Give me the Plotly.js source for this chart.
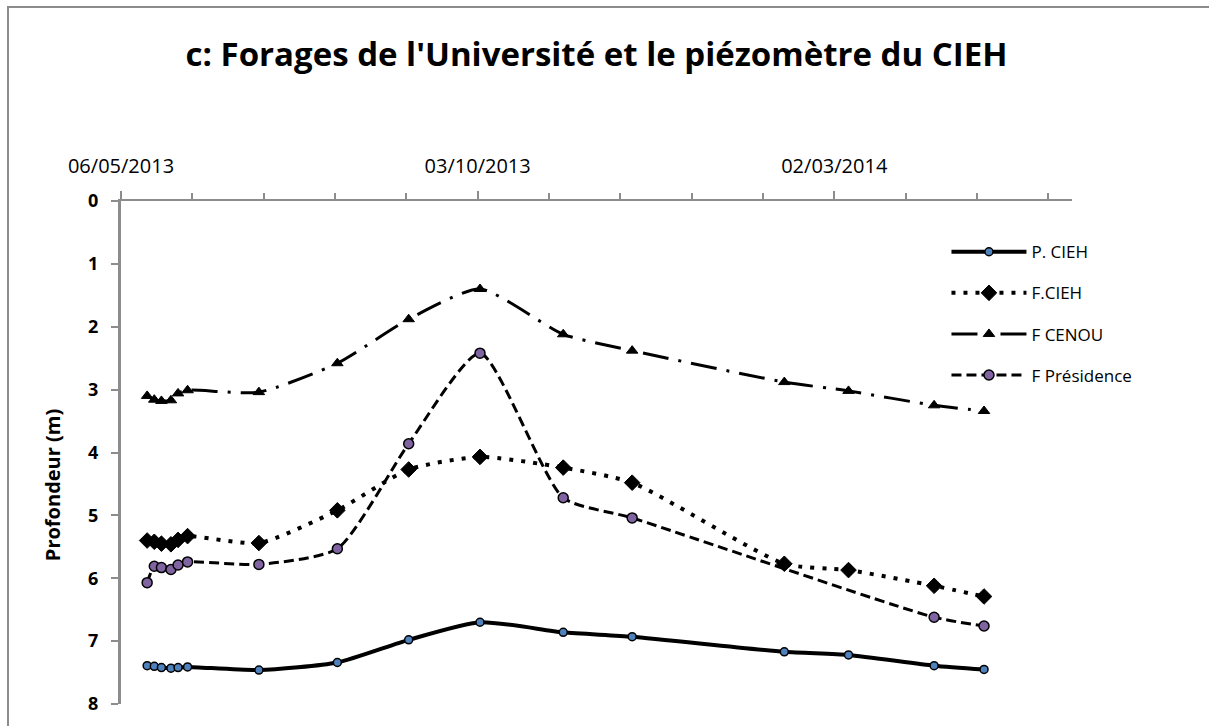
<!DOCTYPE html>
<html>
<head>
<meta charset="utf-8">
<script src="https://cdn.plot.ly/plotly-3.0.1.min.js"></script>
<style>
  html, body { margin:0; padding:0; background:#fff; overflow:hidden; }
  #chart { position:absolute; left:0; top:0; width:1209px; height:726px; }
  #frame { position:absolute; left:7px; top:6px; width:1230px; height:760px; border:2px solid #8c8c8c; pointer-events:none; }
</style>
</head>
<body>
<div id="chart"></div>
<div id="frame"></div>
<script>
// Dates of measurement
const dates = ['2013-05-17','2013-05-20','2013-05-23','2013-05-27','2013-05-30','2013-06-03',
               '2013-07-03','2013-08-05','2013-09-04','2013-10-04','2013-11-08','2013-12-07',
               '2014-02-09','2014-03-08','2014-04-13','2014-05-04'];

// Depth (m) per well
const pCIEH      = [7.39, 7.40, 7.42, 7.43, 7.42, 7.41, 7.46, 7.34, 6.98, 6.70, 6.86, 6.93, 7.17, 7.22, 7.39, 7.45];
const fCIEH      = [5.40, 5.42, 5.45, 5.46, 5.39, 5.33, 5.44, 4.92, 4.27, 4.07, 4.24, 4.48, 5.77, 5.87, 6.12, 6.29];
const fCENOU     = [3.10, 3.16, 3.18, 3.17, 3.06, 3.01, 3.04, 2.58, 1.88, 1.40, 2.12, 2.38, 2.88, 3.02, 3.25, 3.34];
const fPresidence= [6.07, 5.81, 5.83, 5.86, 5.79, 5.74, 5.78, 5.53, 3.86, 2.42, 4.72, 5.04, null, null, 6.62, 6.76];

const seriesNames = ['P. CIEH', 'F.CIEH', 'F CENOU', 'F Présidence'];
const xTickVals = ['2013-05-06', '2013-10-03', '2014-03-02'];
const xTickText = ['06/05/2013', '03/10/2013', '02/03/2014'];
const yTickVals = [0, 1, 2, 3, 4, 5, 6, 7, 8];

const FONT = 'Open Sans, Arial, sans-serif';

const traces = [
  { name: seriesNames[0], x: dates, y: pCIEH, legendgroup:'a',
    line: {color:'#000', width:4, shape:'spline', smoothing:0.6, dash:'solid'},
    marker: {symbol:'circle', size:8, color:'#4f81bd', line:{color:'#000', width:1.5}} },
  { name: seriesNames[1], x: dates, y: fCIEH, legendgroup:'b',
    line: {color:'#000', width:4, shape:'spline', smoothing:0.6, dash:'4px,8px'},
    marker: {symbol:'diamond', size:12, color:'#000', line:{color:'#000', width:1}} },
  { name: seriesNames[2], x: dates, y: fCENOU, legendgroup:'c',
    line: {color:'#000', width:3, shape:'spline', smoothing:0.6, dash:'26px,10px,3px,10px'},
    marker: {symbol:'triangle-up', size:10, color:'#000', line:{color:'#000', width:1}} },
  { name: seriesNames[3], x: dates, y: fPresidence, legendgroup:'d', connectgaps:true,
    line: {color:'#000', width:3, shape:'spline', smoothing:0.6, dash:'10px,5px'},
    marker: {symbol:'circle', size:10, color:'#8064a2', line:{color:'#000', width:1.5}} }
].map(t => Object.assign({type:'scatter', mode:'lines+markers'}, t));

const layout = {
  width: 1209, height: 726,
  margin: {l:121, r:137, t:201, b:22},
  paper_bgcolor:'#fff', plot_bgcolor:'#fff',
  showlegend: true,
  title: {text:'<b>c: Forages de l\'Université et le piézomètre du CIEH</b>',
          font:{family:FONT, size:33, color:'#000'}, x:0.5, xref:'paper', y:0.925, yref:'container', yanchor:'middle'},
  xaxis: {
    type:'date', side:'top', range:['2013-05-06','2014-06-10'],
    tickvals: xTickVals, ticktext: xTickText,
    ticks:'outside', ticklen:8, tickwidth:2, tickcolor:'#8c8c8c',
    showline:true, linecolor:'#8c8c8c', linewidth:2.5, showgrid:false, zeroline:false,
    tickfont:{family:FONT, size:20, color:'#000'},
    ticklabelstandoff: 10,
    minor:{dtick: 30*86400000, tick0:'2013-05-06', ticks:'outside', ticklen:6, tickwidth:2, tickcolor:'#8c8c8c', showgrid:false}
  },
  yaxis: {
    range:[8, 0], tickvals: yTickVals,
    ticks:'outside', ticklen:7, tickwidth:2, tickcolor:'#8c8c8c',
    showline:true, linecolor:'#8c8c8c', linewidth:3, showgrid:false, zeroline:false,
    tickfont:{family:FONT, size:18, color:'#000', weight:'bold'},
    ticklabelstandoff: 9
  },
  annotations: [{
    text:'<b>Profondeur (m)</b>', textangle:-90, showarrow:false,
    xref:'paper', yref:'paper', x:-0.0726, y:0.435, xanchor:'center', yanchor:'middle',
    font:{family:FONT, size:20, color:'#000'}
  }],
  legend: {
    x: 0.868, y: 0.934, xanchor:'left', yanchor:'top',
    font:{family:FONT, size:17, color:'#000'},
    tracegroupgap: 16, bgcolor:'rgba(0,0,0,0)', itemwidth:75
  }
};

Plotly.newPlot('chart', traces, layout, {displayModeBar:false, staticPlot:true});
</script>
</body>
</html>
